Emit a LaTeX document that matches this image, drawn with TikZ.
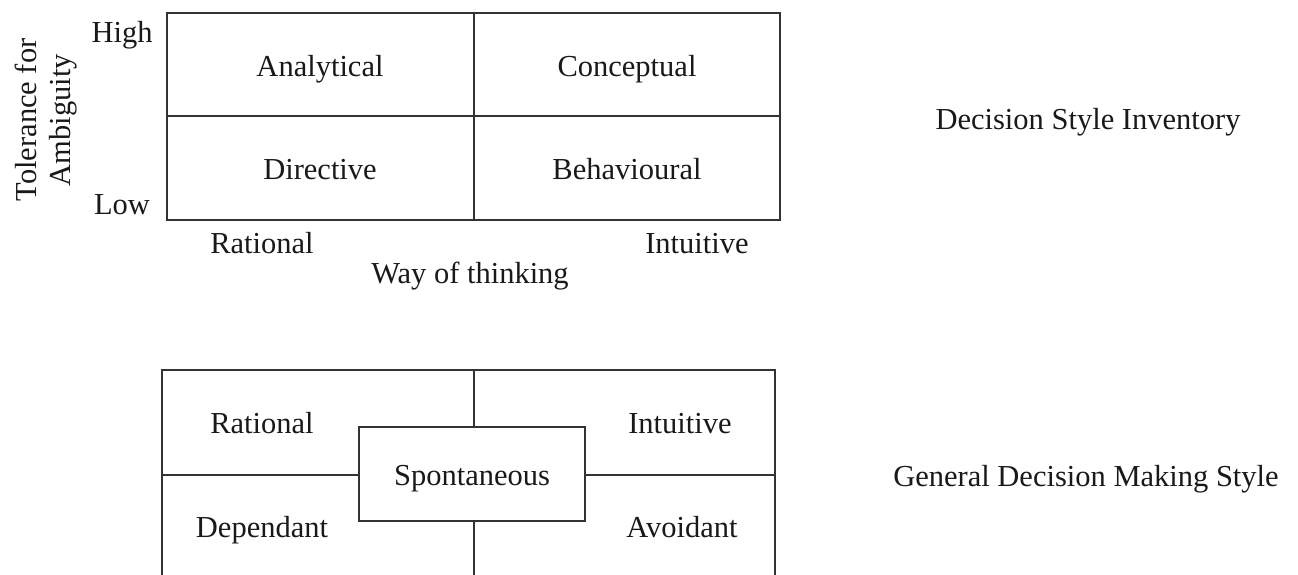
\documentclass[tikz,border=0pt]{standalone}
\usepackage{fontspec}
\setmainfont{Liberation Serif}
\begin{document}
\begin{tikzpicture}[x=1pt,y=-1pt,
  grid/.style={draw=black!80,line width=1.8pt},
  lbl/.style={font=\fontsize{30.5}{36}\selectfont,text=black!90,inner sep=0pt},
  bl/.style={lbl,anchor=base}]
\useasboundingbox (0,0) rectangle (1298,575);
% top grid
\draw[grid] (167,13) rectangle (780,220);
\draw[grid] (167,116) -- (780,116);
\draw[grid] (474,13) -- (474,220);
\node[bl] (ana) at (320,77) {Analytical};
\node[bl] (con) at (627,77) {Conceptual};
\node[bl] (dir) at (320,179) {Directive};
\node[bl] (beh) at (627,179) {Behavioural};
\node[bl] (high) at (122,43) {High};
\node[bl] (low) at (122,214) {Low};
\node[lbl,rotate=90,align=center,font=\fontsize{30.5}{34}\selectfont] (tol) at (46,120) {Tolerance for\\Ambiguity};
\node[bl] (rat1) at (262,253) {Rational};
\node[bl] (int1) at (697,253) {Intuitive};
\node[bl] (way) at (470,283) {Way of thinking};
\node[bl] (dsi) at (1088,130) {Decision Style Inventory};
% bottom grid
\coordinate (bl) at (162,575);
\coordinate (br) at (775,575);
\draw[grid] (bl) -- (162,370) -- (775,370) -- (br);
\node[grid,minimum width=226pt,minimum height=94pt,inner sep=0pt] (spo) at (472,474) {};
\node[bl] (spot) at (472,485) {Spontaneous};
\draw[grid] (474,370) -- (spo.north -| 474,0);
\draw[grid] (spo.south -| 474,0) -- (474,575);
\draw[grid] (162,475) -- (spo.west |- 0,475);
\draw[grid] (spo.east |- 0,475) -- (775,475);
\node[bl] (rat2) at (262,433) {Rational};
\node[bl] (int2) at (680,433) {Intuitive};
\node[bl] (dep) at (262,537) {Dependant};
\node[bl] (avo) at (682,537) {Avoidant};
\node[bl] (gdm) at (1086,486) {General Decision Making Style};
\end{tikzpicture}
\end{document}
